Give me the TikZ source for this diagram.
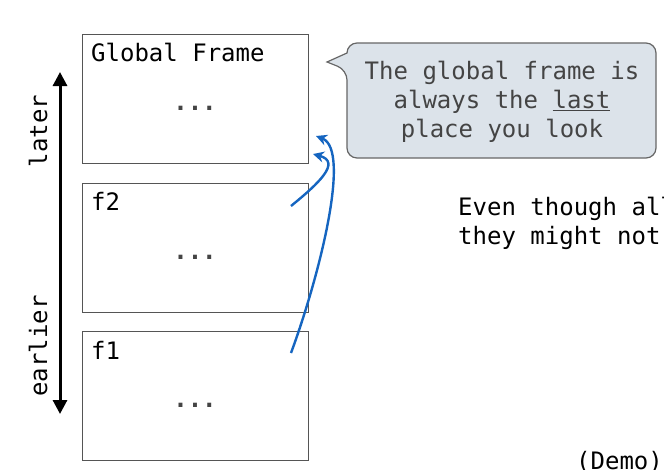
\documentclass[tikz,border=0pt]{standalone}
\usepackage{fontspec}
\newfontfamily\mono{DejaVu Sans Mono}
\usetikzlibrary{arrows.meta}
\definecolor{boxline}{HTML}{555555}
\definecolor{txtgray}{HTML}{444444}
\definecolor{callfill}{HTML}{DCE3EA}
\definecolor{callline}{HTML}{666666}
\definecolor{arrblue}{HTML}{1565C0}
\begin{document}
\begin{tikzpicture}[x=1pt,y=-1pt,
  frame/.style={draw=boxline,line width=1.2pt,minimum width=226pt,minimum height=129pt,inner sep=0pt,anchor=north west},
  lbl/.style={font=\mono\fontsize{24}{29}\selectfont,inner sep=0pt,anchor=west},
  dots/.style={font=\mono\bfseries\fontsize{24}{29}\selectfont,text=txtgray,inner sep=0pt,anchor=base},
  look/.style={arrblue,line width=2.4pt,-{Stealth[length=11pt,width=11pt]}}]
\useasboundingbox (0,0) rectangle (664,469);
\clip (0,0) rectangle (664,469);
% frames
\node[frame] (g) at (82,34) {};
\node[frame] (f2) at (82,183) {};
\node[frame] (f1) at (82,331) {};
\node[lbl] (gl) at (91,52) {Global Frame};
\node[lbl] (f2l) at (91,201) {f2};
\node[lbl] (f1l) at (91,350) {f1};
\node[dots] (gd) at (195,110) {...};
\node[dots] (f2d) at (195,259) {...};
\node[dots] (f1d) at (195,407) {...};
% time arrow
\coordinate (top) at (60,72);
\coordinate (bot) at (60,414);
\draw[line width=3pt,{Triangle[length=14pt,width=14pt]}-{Triangle[length=14pt,width=14pt]}] (top) -- (bot);
\node[lbl,anchor=center,rotate=90] (later) at (38,131) {later};
\node[lbl,anchor=center,rotate=90] (earlier) at (38,346) {earlier};
% callout
\draw[fill=callfill,draw=callline,line width=1.2pt,rounded corners=10pt]
  (347,53) -- (347,43) -- (656,43) -- (656,158) -- (347,158) -- (347,70) [sharp corners] -- (327,62) -- cycle;
\node[font=\mono\fontsize{24}{29}\selectfont,text=txtgray,align=center,inner sep=0pt] (call) at (502,102)
  {The global frame is\\always the \underline{last}\\place you look};
% right text
\node[lbl,anchor=west] (t1) at (458,209) {Even though all};
\node[lbl,anchor=west] (t2) at (458,238) {they might not};
\node[lbl,anchor=west] (demo) at (576,462) {(Demo)};
% lookup arrows
\coordinate (a1s) at (291,206);
\coordinate (a1e) at (313,154);
\coordinate (a2s) at (291,353);
\coordinate (a2e) at (316,136);
\draw[look] (a1s) .. controls (318,184) and (342,162) .. (a1e);
\draw[look] (a2s) .. controls (318,280) and (352,150) .. (a2e);
\end{tikzpicture}
\end{document}
